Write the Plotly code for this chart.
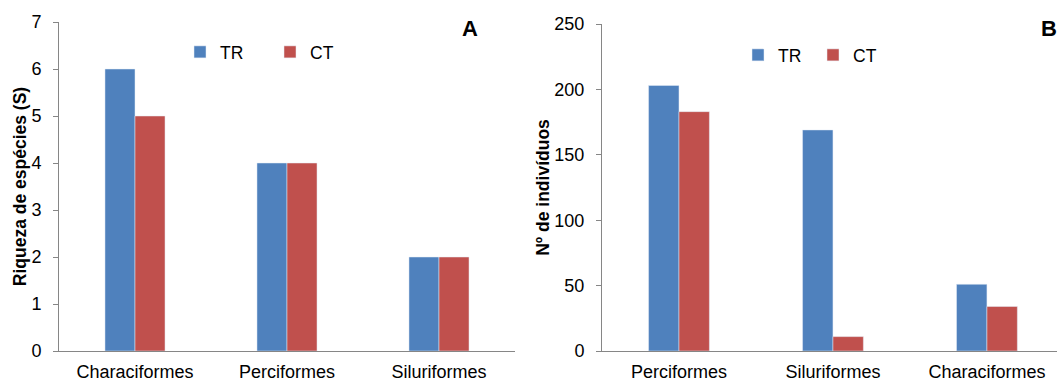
import plotly.graph_objects as go

# Panel A data
cats_a = ["Characiformes", "Perciformes", "Siluriformes"]
tr_a = [6, 4, 2]
ct_a = [5, 4, 2]
# Panel B data
cats_b = ["Perciformes", "Siluriformes", "Characiformes"]
tr_b = [203, 169, 51]
ct_b = [183, 11, 34]

W, H = 1057, 383
BLUE = "#4F81BD"
RED = "#C0504D"
AX = "#868686"
FONT = "Liberation Sans, Arial, sans-serif"

def px(x):
    return x / W

def py(y):
    return 1 - y / H

fig = go.Figure()
fig.add_trace(go.Bar(x=cats_a, y=tr_a, name="TR", marker_color=BLUE,
                     xaxis="x", yaxis="y", legend="legend"))
fig.add_trace(go.Bar(x=cats_a, y=ct_a, name="CT", marker_color=RED,
                     xaxis="x", yaxis="y", legend="legend"))
fig.add_trace(go.Bar(x=cats_b, y=tr_b, name="TR", marker_color=BLUE,
                     xaxis="x2", yaxis="y2", legend="legend2"))
fig.add_trace(go.Bar(x=cats_b, y=ct_b, name="CT", marker_color=RED,
                     xaxis="x2", yaxis="y2", legend="legend2"))

tickfont = dict(family=FONT, size=18, color="black")
titlefont = dict(family=FONT, size=17.5, color="black", weight="bold")

common_x = dict(type="category", showline=True, linecolor=AX, linewidth=1,
                ticks="", showgrid=False, zeroline=False, tickfont=tickfont,
                ticklabelstandoff=4, automargin=False)
common_y = dict(showline=True, linecolor=AX, linewidth=1, ticks="outside",
                ticklen=5, tickcolor=AX, showgrid=False, zeroline=False,
                tickfont=tickfont, ticklabelstandoff=8, automargin=False)

fig.update_layout(
    width=W, height=H,
    margin=dict(l=0, r=0, t=0, b=0),
    paper_bgcolor="white", plot_bgcolor="white",
    barmode="group", bargap=0.605, bargroupgap=0,
    font=dict(family=FONT, color="black"),
    xaxis=dict(domain=[px(59), px(515)], anchor="y", range=[-0.5, 2.5], **common_x),
    yaxis=dict(domain=[py(351), py(22)], anchor="x", range=[0, 7], dtick=1,
               title=dict(text="Riqueza de espécies (S)", font=titlefont, standoff=0),
               **common_y),
    xaxis2=dict(domain=[px(602), 1], anchor="y2", range=[-0.5, 2.455], **common_x),
    yaxis2=dict(domain=[py(351), py(24)], anchor="x2", range=[0, 250], dtick=50,
                title=dict(text="Nº de indivíduos", font=titlefont, standoff=0),
                **common_y),
    legend=dict(orientation="h", x=px(180), y=py(52), yanchor="middle", xanchor="left",
                bgcolor="rgba(0,0,0,0)", font=dict(family=FONT, size=17.5, color="black"),
                itemwidth=30, entrywidth=45, traceorder="normal"),
    legend2=dict(orientation="h", x=px(738), y=py(55), yanchor="middle", xanchor="left",
                 bgcolor="rgba(0,0,0,0)", font=dict(family=FONT, size=17.5, color="black"),
                 itemwidth=30, entrywidth=30, traceorder="normal"),
    annotations=[
        dict(text="<b>A</b>", x=px(470), y=py(28), xref="paper", yref="paper",
             showarrow=False, font=dict(family=FONT, size=22, color="black"),
             xanchor="center", yanchor="middle"),
        dict(text="<b>B</b>", x=px(1039), y=py(28), xref="paper", yref="paper",
             showarrow=False, font=dict(family=FONT, size=22, color="black"),
             xanchor="left", yanchor="middle"),
    ],
)

fig.write_html("out.html")
